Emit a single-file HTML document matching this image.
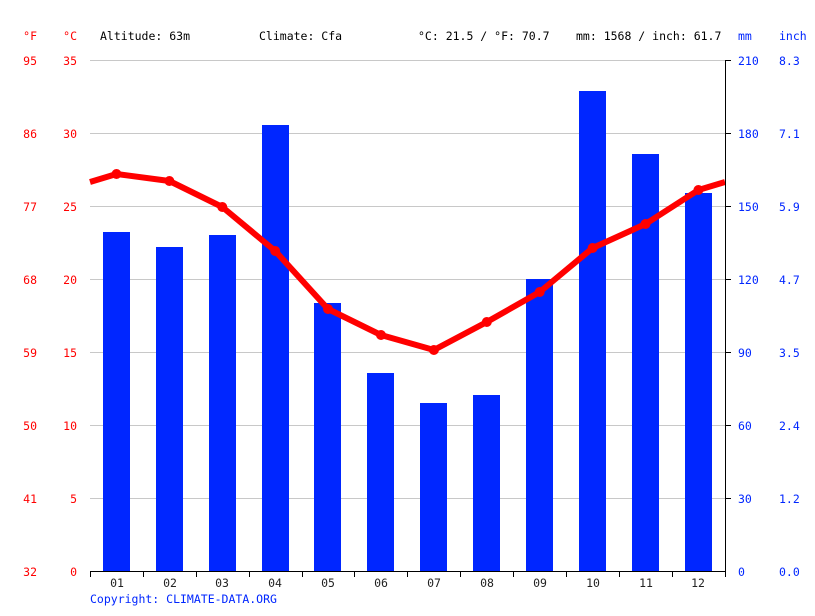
<!DOCTYPE html>
<html><head><meta charset="utf-8"><style>
body{margin:0;background:#fff}
svg text{font-family:"DejaVu Sans Mono","Liberation Mono",monospace;font-size:11.5px}
</style></head><body>
<svg width="815" height="611" xmlns="http://www.w3.org/2000/svg">
<rect width="815" height="611" fill="#fff"/>
<g stroke="#c8c8c8" stroke-width="1">
<line x1="90" x2="725" y1="60.5" y2="60.5"/>
<line x1="90" x2="725" y1="133.5" y2="133.5"/>
<line x1="90" x2="725" y1="206.5" y2="206.5"/>
<line x1="90" x2="725" y1="279.5" y2="279.5"/>
<line x1="90" x2="725" y1="352.5" y2="352.5"/>
<line x1="90" x2="725" y1="425.5" y2="425.5"/>
<line x1="90" x2="725" y1="498.5" y2="498.5"/>
</g>
<g fill="#0026ff">
<rect x="103" y="232" width="27" height="339"/>
<rect x="156" y="247" width="27" height="324"/>
<rect x="209" y="235" width="27" height="336"/>
<rect x="262" y="125" width="27" height="446"/>
<rect x="314" y="303" width="27" height="268"/>
<rect x="367" y="373" width="27" height="198"/>
<rect x="420" y="403" width="27" height="168"/>
<rect x="473" y="395" width="27" height="176"/>
<rect x="526" y="279" width="27" height="292"/>
<rect x="579" y="91" width="27" height="480"/>
<rect x="632" y="154" width="27" height="417"/>
<rect x="685" y="193" width="27" height="378"/>
</g>
<polyline fill="none" stroke="#ff0000" stroke-width="6" stroke-linejoin="round" points="90,182 116.5,174 169.4,181 222.3,207 275.2,251 328,309 381,335 433.9,350 486.8,322 539.7,292 592.6,248 645.5,224 698.4,190 725,182"/>
<g fill="#ff0000">
<circle cx="116.5" cy="174" r="5"/><circle cx="169.4" cy="181" r="5"/><circle cx="222.3" cy="207" r="5"/><circle cx="275.2" cy="251" r="5"/><circle cx="328" cy="309" r="5"/><circle cx="381" cy="335" r="5"/><circle cx="433.9" cy="350" r="5"/><circle cx="486.8" cy="322" r="5"/><circle cx="539.7" cy="292" r="5"/><circle cx="592.6" cy="248" r="5"/><circle cx="645.5" cy="224" r="5"/><circle cx="698.4" cy="190" r="5"/>
</g>
<g stroke="#000" stroke-width="1">
<line x1="90" x2="725" y1="571.5" y2="571.5"/>
<line x1="725.5" x2="725.5" y1="60" y2="571"/>
<line x1="90.5" x2="90.5" y1="571" y2="577"/>
<line x1="143.5" x2="143.5" y1="571" y2="577"/>
<line x1="196.5" x2="196.5" y1="571" y2="577"/>
<line x1="249.5" x2="249.5" y1="571" y2="577"/>
<line x1="302.5" x2="302.5" y1="571" y2="577"/>
<line x1="354.5" x2="354.5" y1="571" y2="577"/>
<line x1="407.5" x2="407.5" y1="571" y2="577"/>
<line x1="460.5" x2="460.5" y1="571" y2="577"/>
<line x1="513.5" x2="513.5" y1="571" y2="577"/>
<line x1="566.5" x2="566.5" y1="571" y2="577"/>
<line x1="619.5" x2="619.5" y1="571" y2="577"/>
<line x1="672.5" x2="672.5" y1="571" y2="577"/>
<line x1="725.5" x2="725.5" y1="571" y2="577"/>
<g>
<line x1="725" x2="731" y1="60.5" y2="60.5"/><line x1="725" x2="731" y1="133.5" y2="133.5"/><line x1="725" x2="731" y1="206.5" y2="206.5"/><line x1="725" x2="731" y1="279.5" y2="279.5"/><line x1="725" x2="731" y1="352.5" y2="352.5"/><line x1="725" x2="731" y1="425.5" y2="425.5"/><line x1="725" x2="731" y1="498.5" y2="498.5"/>
</g>
</g>
<g fill="#222" text-anchor="middle">
<text x="117" y="587">01</text><text x="170" y="587">02</text><text x="222" y="587">03</text><text x="275" y="587">04</text><text x="328" y="587">05</text><text x="381" y="587">06</text><text x="434" y="587">07</text><text x="487" y="587">08</text><text x="540" y="587">09</text><text x="593" y="587">10</text><text x="646" y="587">11</text><text x="698" y="587">12</text>
</g>
<g fill="#ff0000" text-anchor="end">
<text x="37" y="40">°F</text><text x="77" y="40">°C</text>
<text x="37" y="65">95</text><text x="37" y="138">86</text><text x="37" y="211">77</text><text x="37" y="284">68</text><text x="37" y="357">59</text><text x="37" y="430">50</text><text x="37" y="503">41</text><text x="37" y="576">32</text>
<text x="77" y="65">35</text><text x="77" y="138">30</text><text x="77" y="211">25</text><text x="77" y="284">20</text><text x="77" y="357">15</text><text x="77" y="430">10</text><text x="77" y="503">5</text><text x="77" y="576">0</text>
</g>
<g fill="#0026ff">
<text x="738" y="40">mm</text><text x="779" y="40">inch</text>
<text x="738" y="65">210</text><text x="738" y="138">180</text><text x="738" y="211">150</text><text x="738" y="284">120</text><text x="738" y="357">90</text><text x="738" y="430">60</text><text x="738" y="503">30</text><text x="738" y="576">0</text>
<text x="779" y="65">8.3</text><text x="779" y="138">7.1</text><text x="779" y="211">5.9</text><text x="779" y="284">4.7</text><text x="779" y="357">3.5</text><text x="779" y="430">2.4</text><text x="779" y="503">1.2</text><text x="779" y="576">0.0</text>
<text x="90" y="603">Copyright: CLIMATE-DATA.ORG</text>
</g>
<g fill="#000">
<text x="100" y="40">Altitude: 63m</text>
<text x="259" y="40">Climate: Cfa</text>
<text x="418" y="40">°C: 21.5 / °F: 70.7</text>
<text x="576" y="40">mm: 1568 / inch: 61.7</text>
</g>
</svg>
</body></html>
